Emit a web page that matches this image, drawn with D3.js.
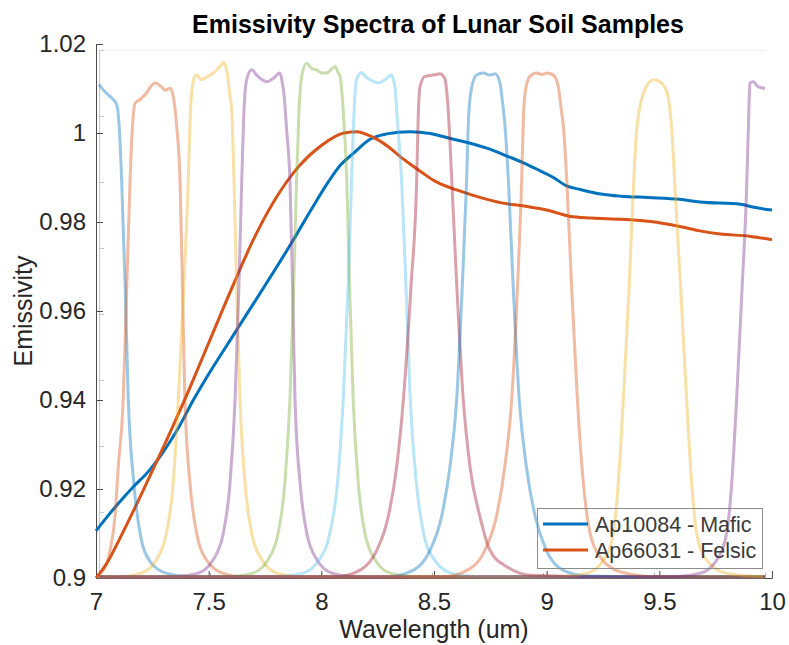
<!DOCTYPE html>
<html>
<head>
<meta charset="utf-8">
<script src="https://cdn.jsdelivr.net/npm/d3@7"></script>
<style>
  body { margin: 0; background: #fff; }
  svg { display: block; font-family: "Liberation Sans", Arial, Helvetica, sans-serif; }
</style>
</head>
<body>
<div id="chart"></div>
<script>
// Emissivity spectra (wavelength in um, emissivity)
const maficWl = [7.0, 7.05, 7.1, 7.166, 7.232, 7.314, 7.373, 7.432, 7.484, 7.624, 7.876, 7.96, 8.031, 8.085, 8.142, 8.216, 8.29, 8.394, 8.483, 8.578, 8.652, 8.734, 8.83, 8.897, 8.96, 9.03, 9.089, 9.15, 9.24, 9.33, 9.45, 9.59, 9.68, 9.86, 9.92, 10.0];
const maficVal = [0.9106, 0.9138, 0.9168, 0.9205, 0.9239, 0.9295, 0.9344, 0.9400, 0.9445, 0.9557, 0.9760, 0.9832, 0.9890, 0.9928, 0.9954, 0.9986, 0.9998, 1.0003, 0.9999, 0.9987, 0.9978, 0.9966, 0.9947, 0.9933, 0.9918, 0.9900, 0.9881, 0.9873, 0.9863, 0.9858, 0.9855, 0.9851, 0.9845, 0.9840, 0.9833, 0.9827];

const felsicWl = [7.0, 7.05, 7.1, 7.2, 7.3, 7.4, 7.5, 7.6, 7.7, 7.8, 7.9, 8.0, 8.1, 8.16, 8.2, 8.25, 8.3, 8.35, 8.4, 8.45, 8.5, 8.6, 8.7, 8.8, 8.9, 9.0, 9.05, 9.1, 9.2, 9.33, 9.46, 9.59, 9.68, 9.77, 9.9, 10.0];
const felsicVal = [0.9000, 0.9035, 0.9083, 0.9187, 0.9295, 0.9408, 0.9528, 0.9648, 0.9762, 0.9855, 0.9925, 0.9972, 1.0000, 1.0003, 0.9997, 0.9985, 0.9968, 0.9947, 0.9928, 0.9910, 0.9893, 0.9872, 0.9856, 0.9843, 0.9836, 0.9827, 0.9820, 0.9813, 0.9809, 0.9806, 0.9801, 0.9790, 0.9780, 0.9773, 0.9768, 0.9760];

const seriesNames = ["Ap10084 - Mafic", "Ap66031 - Felsic"];

// Filter transmission curves [wavelength, transmission]
const filter1 = [[7.0, 0.748], [7.018, 0.740], [7.035, 0.734], [7.064, 0.725], [7.08, 0.717], [7.091, 0.684], [7.102, 0.603], [7.118, 0.44], [7.132, 0.27], [7.155, 0.15], [7.185, 0.068], [7.23, 0.025], [7.305, 0.007], [7.41, 0.002], [7.7, 0.0015], [10.0, 0.0015]];
const filter2 = [[7.0, 0.007], [7.02, 0.012], [7.05, 0.042], [7.072, 0.093], [7.087, 0.169], [7.109, 0.27], [7.125, 0.44], [7.14, 0.603], [7.15, 0.68], [7.162, 0.719], [7.185, 0.725], [7.207, 0.732], [7.252, 0.750], [7.282, 0.744], [7.297, 0.739], [7.32, 0.742], [7.335, 0.729], [7.35, 0.684], [7.365, 0.603], [7.376, 0.44], [7.387, 0.27], [7.41, 0.143], [7.44, 0.068], [7.485, 0.027], [7.56, 0.007], [7.635, 0.002], [8.0, 0.0015], [10.0, 0.0015]];
const filter3 = [[7.0, 0.0015], [7.09, 0.002], [7.187, 0.007], [7.257, 0.027], [7.304, 0.068], [7.334, 0.143], [7.357, 0.27], [7.382, 0.44], [7.402, 0.603], [7.41, 0.69], [7.417, 0.734], [7.432, 0.760], [7.44, 0.762], [7.462, 0.755], [7.485, 0.759], [7.515, 0.765], [7.545, 0.775], [7.56, 0.781], [7.575, 0.770], [7.59, 0.730], [7.598, 0.709], [7.608, 0.603], [7.62, 0.44], [7.635, 0.27], [7.658, 0.143], [7.688, 0.068], [7.735, 0.027], [7.805, 0.007], [7.9, 0.002], [8.2, 0.0015], [10.0, 0.0015]];
const filter4 = [[7.0, 0.0015], [7.34, 0.002], [7.443, 0.007], [7.513, 0.027], [7.56, 0.068], [7.59, 0.143], [7.613, 0.27], [7.63, 0.44], [7.643, 0.603], [7.652, 0.70], [7.665, 0.755], [7.688, 0.770], [7.71, 0.762], [7.735, 0.755], [7.755, 0.752], [7.785, 0.757], [7.815, 0.765], [7.826, 0.750], [7.833, 0.734], [7.845, 0.68], [7.86, 0.603], [7.872, 0.44], [7.883, 0.27], [7.906, 0.143], [7.936, 0.068], [7.983, 0.027], [8.053, 0.007], [8.15, 0.002], [8.5, 0.0015], [10.0, 0.0015]];
const filter5 = [[7.0, 0.0015], [7.59, 0.002], [7.69, 0.007], [7.76, 0.027], [7.807, 0.068], [7.837, 0.143], [7.86, 0.27], [7.877, 0.44], [7.89, 0.603], [7.9, 0.70], [7.913, 0.760], [7.935, 0.780], [7.958, 0.772], [7.98, 0.770], [8.005, 0.765], [8.026, 0.765], [8.05, 0.772], [8.063, 0.775], [8.078, 0.765], [8.086, 0.760], [8.1, 0.709], [8.116, 0.603], [8.129, 0.44], [8.145, 0.27], [8.168, 0.143], [8.198, 0.068], [8.245, 0.027], [8.315, 0.007], [8.42, 0.002], [8.8, 0.0015], [10.0, 0.0015]];
const filter6 = [[7.0, 0.0015], [7.8, 0.002], [7.915, 0.007], [7.99, 0.027], [8.04, 0.068], [8.074, 0.143], [8.1, 0.27], [8.122, 0.44], [8.138, 0.603], [8.148, 0.70], [8.16, 0.755], [8.183, 0.766], [8.2, 0.760], [8.221, 0.755], [8.24, 0.752], [8.258, 0.750], [8.28, 0.753], [8.296, 0.757], [8.318, 0.762], [8.326, 0.755], [8.333, 0.744], [8.345, 0.69], [8.363, 0.603], [8.383, 0.44], [8.402, 0.27], [8.43, 0.143], [8.462, 0.068], [8.512, 0.027], [8.59, 0.007], [8.7, 0.002], [9.1, 0.0015], [10.0, 0.0015]];
const filter7 = [[7.0, 0.0015], [8.07, 0.002], [8.176, 0.012], [8.251, 0.042], [8.303, 0.093], [8.341, 0.169], [8.371, 0.27], [8.405, 0.44], [8.431, 0.603], [8.438, 0.70], [8.446, 0.744], [8.468, 0.760], [8.506, 0.762], [8.536, 0.764], [8.552, 0.760], [8.559, 0.755], [8.573, 0.709], [8.589, 0.603], [8.612, 0.44], [8.641, 0.27], [8.671, 0.169], [8.716, 0.093], [8.761, 0.042], [8.837, 0.017], [8.95, 0.004], [9.3, 0.0015], [10.0, 0.0015]];
const filter8 = [[7.0, 0.0015], [8.3, 0.002], [8.416, 0.012], [8.491, 0.042], [8.543, 0.093], [8.581, 0.169], [8.611, 0.27], [8.636, 0.44], [8.656, 0.603], [8.665, 0.70], [8.679, 0.744], [8.701, 0.762], [8.731, 0.765], [8.761, 0.762], [8.784, 0.764], [8.806, 0.750], [8.818, 0.72], [8.829, 0.684], [8.844, 0.603], [8.866, 0.44], [8.893, 0.27], [8.925, 0.169], [8.965, 0.093], [9.015, 0.042], [9.09, 0.012], [9.2, 0.003], [9.6, 0.0015], [10.0, 0.0015]];
const filter9 = [[7.0, 0.0015], [8.55, 0.002], [8.66, 0.012], [8.738, 0.042], [8.79, 0.093], [8.828, 0.169], [8.859, 0.27], [8.885, 0.44], [8.904, 0.603], [8.912, 0.70], [8.919, 0.734], [8.941, 0.760], [8.971, 0.765], [8.995, 0.763], [9.016, 0.765], [9.047, 0.762], [9.069, 0.744], [9.082, 0.71], [9.092, 0.684], [9.107, 0.603], [9.129, 0.44], [9.155, 0.27], [9.182, 0.143], [9.212, 0.068], [9.257, 0.032], [9.347, 0.0095], [9.497, 0.002], [10.0, 0.0015]];
const filter10 = [[7.0, 0.0015], [9.08, 0.002], [9.197, 0.007], [9.272, 0.027], [9.317, 0.068], [9.339, 0.143], [9.362, 0.27], [9.388, 0.44], [9.407, 0.588], [9.422, 0.679], [9.452, 0.734], [9.497, 0.755], [9.527, 0.752], [9.557, 0.737], [9.58, 0.679], [9.595, 0.588], [9.62, 0.44], [9.647, 0.27], [9.67, 0.143], [9.692, 0.068], [9.737, 0.027], [9.827, 0.007], [9.99, 0.002]];
const filter11 = [[7.0, 0.0015], [9.587, 0.002], [9.707, 0.007], [9.782, 0.027], [9.827, 0.068], [9.85, 0.143], [9.872, 0.27], [9.897, 0.44], [9.917, 0.588], [9.925, 0.68], [9.932, 0.750], [9.947, 0.752], [9.97, 0.744], [10.0, 0.742]];
const filters = [filter1, filter2, filter3, filter4, filter5, filter6, filter7, filter8, filter9, filter10, filter11];

const xTicks = [7, 7.5, 8, 8.5, 9, 9.5, 10];
const yTicks = [0.9, 0.92, 0.94, 0.96, 0.98, 1, 1.02];
const filterYTicks = [0, 0.1, 0.2, 0.3, 0.4, 0.5, 0.6, 0.7, 0.8];

// MATLAB default line colours
const palette = ["#0072BD", "#D95319", "#EDB120", "#7E2F8E", "#77AC30", "#4DBEEE", "#A2142F"];

const W = 789, H = 645;
const svg = d3.select("#chart").append("svg")
  .attr("width", W).attr("height", H);

// main axes
const x = d3.scaleLinear().domain([7, 10]).range([96, 772]);
const y = d3.scaleLinear().domain([0.9, 1.02]).range([578, 44]);
// overlaid filter axes (slightly smaller box)
const fx = d3.scaleLinear().domain([7, 10]).range([99, 765]);
const fy = d3.scaleLinear().domain([0, 0.8]).range([578, 50]);

// filter axes frame
svg.append("line").attr("x1", 99).attr("x2", 765).attr("y1", 50.5).attr("y2", 50.5)
  .attr("stroke", "#f0f0f0");
svg.append("line").attr("x1", 99.5).attr("x2", 99.5).attr("y1", 50).attr("y2", 578)
  .attr("stroke", "#c8c8c8");
svg.selectAll(".fyt").data(filterYTicks).enter().append("line")
  .attr("x1", 99).attr("x2", 104)
  .attr("y1", d => Math.round(fy(d)) + 0.5).attr("y2", d => Math.round(fy(d)) + 0.5)
  .attr("stroke", "#c8c8c8");
svg.selectAll(".fxt").data(xTicks).enter().append("line")
  .attr("x1", d => Math.round(fx(d)) + 0.5).attr("x2", d => Math.round(fx(d)) + 0.5)
  .attr("y1", 578).attr("y2", 573)
  .attr("stroke", "#b0b0b0");

// main axes
const xAxis = d3.axisBottom(x).tickValues(xTicks).tickSizeInner(-7).tickSizeOuter(0)
  .tickPadding(15).tickFormat(d => String(d));
const yAxis = d3.axisLeft(y).tickValues(yTicks).tickSizeInner(-7).tickSizeOuter(0)
  .tickPadding(10).tickFormat(d => String(+d.toFixed(2)));

const gx = svg.append("g").attr("transform", "translate(0,578)").call(xAxis);
const gy = svg.append("g").attr("transform", "translate(96,0)").call(yAxis);
[gx, gy].forEach(g => {
  g.select(".domain").attr("stroke", "#4a4a4a");
  g.selectAll(".tick line").attr("stroke", "#4a4a4a");
  g.selectAll(".tick text").attr("fill", "#262626").style("font-size", "24px");
});

// emissivity lines
const line = d3.line().x(d => x(d[0])).y(d => y(d[1])).curve(d3.curveMonotoneX);
const mafic = maficWl.map((w, i) => [w, maficVal[i]]);
const felsic = felsicWl.map((w, i) => [w, felsicVal[i]]);

svg.append("path").datum(mafic).attr("d", line)
  .attr("fill", "none").attr("stroke", palette[0]).attr("stroke-width", 3);
svg.append("path").datum(felsic).attr("d", line)
  .attr("fill", "none").attr("stroke", palette[1]).attr("stroke-width", 3);

// filter curves on top, semi transparent
const fline = d3.line().x(d => fx(d[0])).y(d => fy(d[1])).curve(d3.curveMonotoneX);
svg.selectAll(".filter").data(filters).enter().append("path")
  .attr("class", "filter")
  .attr("d", fline)
  .attr("fill", "none")
  .attr("stroke", (d, i) => palette[i % palette.length])
  .attr("stroke-opacity", 0.4)
  .attr("stroke-width", 3);

// legend
const legend = svg.append("g");
legend.append("rect").attr("x", 537.5).attr("y", 508.5).attr("width", 225).attr("height", 60)
  .attr("fill", "none").attr("stroke", "#8c8c8c");
seriesNames.forEach((name, i) => {
  const ly = 524 + i * 26;
  legend.append("line").attr("x1", 543).attr("x2", 588).attr("y1", ly).attr("y2", ly)
    .attr("stroke", palette[i]).attr("stroke-width", 3);
  legend.append("text").attr("x", 595).attr("y", ly + 8)
    .attr("fill", "#3a3a3a").style("font-size", "21.5px").text(name);
});

// titles
svg.append("text").attr("x", 438).attr("y", 33).attr("text-anchor", "middle")
  .style("font-size", "25px").style("font-weight", "bold").attr("fill", "#000")
  .text("Emissivity Spectra of Lunar Soil Samples");
svg.append("text").attr("x", 434).attr("y", 638).attr("text-anchor", "middle")
  .style("font-size", "25px").attr("fill", "#262626").text("Wavelength (um)");
svg.append("text").attr("transform", "translate(32,311) rotate(-90)").attr("text-anchor", "middle")
  .style("font-size", "25px").attr("fill", "#262626").text("Emissivity");
</script>
</body>
</html>
